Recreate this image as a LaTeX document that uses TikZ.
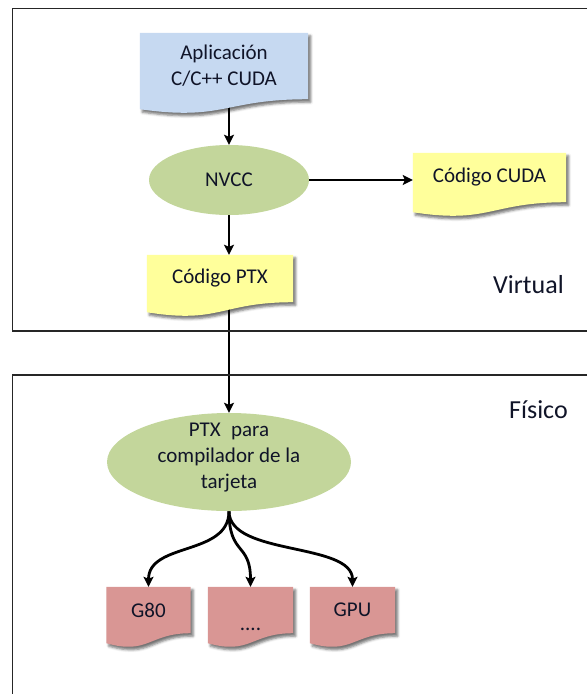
\documentclass[tikz,border=0pt]{standalone}
\usepackage{fontspec}
\setmainfont{Carlito}
\usetikzlibrary{positioning,shapes.geometric,arrows.meta,backgrounds,shadows.blur,calc}

\definecolor{AppBlue}{RGB}{198,217,241}
\definecolor{CodeYellow}{RGB}{255,255,155}
\definecolor{StepGreen}{RGB}{195,214,155}
\definecolor{CardRed}{RGB}{217,150,148}
\definecolor{InkNavy}{RGB}{16,20,40}
\definecolor{FrameGray}{RGB}{38,38,38}

% wavy document outline drawn behind a node
\newcommand{\DocShape}[2]{%
    \path[fill=#2,blur shadow={shadow xshift=2.5pt,shadow yshift=-3pt,shadow blur radius=2.5pt,shadow opacity=55}]
        (#1.north west) -- (#1.north east) -- (#1.south east)
        .. controls ($(#1.south)$) and ($(#1.south)+(0,22)$) .. ($(#1.south west)+(0,10)$) -- cycle;}

\begin{document}
\begin{tikzpicture}[
        %Environment config
        x=1pt, y=-1pt,
        font=\fontsize{21}{26}\selectfont,
        text=InkNavy,
        %Environment styles
        DocCfg/.style={rectangle, inner sep=0pt, align=center, minimum width=#1},
        EllipseCfg/.style={ellipse, fill=StepGreen, inner sep=0pt},
        LabelCfg/.style={font=\fontsize{26}{30}\selectfont},
        FrameCfg/.style={draw=FrameGray, line width=1.4pt},
        ArrowCfg/.style={line width=2.8pt, -{Stealth[length=10pt,width=10pt,inset=2pt]}}
    ]
    \useasboundingbox (0,0) rectangle (587,694);

    \draw[FrameCfg] (587,8.5) -- (12.5,8.5) -- (12.5,331) -- (587,331);
    \draw[FrameCfg] (587,375) -- (12.5,375) -- (12.5,694);

    \path
        (224,66) node[DocCfg=168, minimum height=66](app){Aplicación\\C/C++ CUDA}
        (229,180) node[EllipseCfg, minimum width=160, minimum height=70](nvcc){NVCC}
        (489.5,177.5) node[DocCfg=153, minimum height=49](cuda){Código CUDA}
        (220,278.5) node[DocCfg=146, minimum height=47](ptx){Código PTX}
        (229,462) node[EllipseCfg, minimum width=244, minimum height=98,
            label={[align=center, yshift=4pt]center:PTX\enspace para\\compilador de la\\tarjeta}](ptxc){}
        (148.5,610) node[DocCfg=84, minimum height=46](g80){G80}
        (250.5,610) node[DocCfg=85, minimum height=46](dots){\raisebox{-20pt}[0pt][0pt]{....}}
        (352.5,610) node[DocCfg=85, minimum height=46](gpu){GPU}
        (528.5,284.5) node[LabelCfg](virtual){Virtual}
        (538.5,410) node[LabelCfg](fisico){Físico};

    \begin{scope}[on background layer]
        \draw[ArrowCfg] (app.south -| nvcc.north) -- (nvcc.north);
        \draw[ArrowCfg] (nvcc.east) -- (nvcc.east -| cuda.west);
        \draw[ArrowCfg] (nvcc.south) -- (nvcc.south |- ptx.north);
        \draw[ArrowCfg] (ptx.south -| ptxc.north) -- (ptxc.north);
        \draw[ArrowCfg] (ptxc.south) .. controls +(0,45) and +(0,-45) .. (g80.north);
        \draw[ArrowCfg] (ptxc.south) .. controls +(0,45) and +(0,-45) .. (dots.north);
        \draw[ArrowCfg] (ptxc.south) .. controls +(0,45) and +(0,-45) .. (gpu.north);
        \DocShape{app}{AppBlue}
        \DocShape{cuda}{CodeYellow}
        \DocShape{ptx}{CodeYellow}
        \DocShape{g80}{CardRed}
        \DocShape{dots}{CardRed}
        \DocShape{gpu}{CardRed}
    \end{scope}
\end{tikzpicture}
\end{document}
